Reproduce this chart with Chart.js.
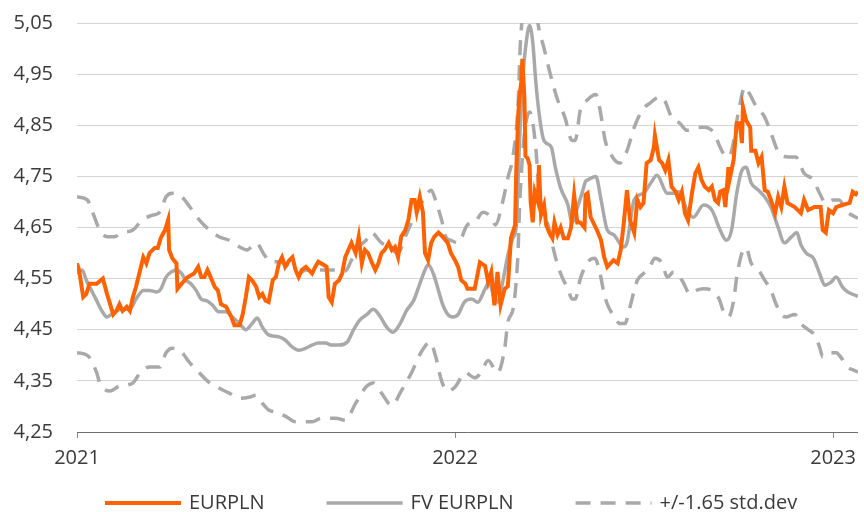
<!DOCTYPE html>
<html lang="en">
<head>
    <meta charset="UTF-8">
    <title>EURPLN vs fair value</title>
    <style>
        body { margin: 0; background: #fff; }
        canvas { display: block; }
    </style>
</head>
<body>
<canvas id="fxChart" width="864" height="512"></canvas>

<script src="https://cdn.jsdelivr.net/npm/chart.js@4.4.1/dist/chart.umd.min.js"></script>
<script>
  // x values are days since 1 Jan 2021
  const xTickDays = [0, 365, 730];
  const xTickLabels = ['2021', '2022', '2023'];
  const yTicks = [4.25, 4.35, 4.45, 4.55, 4.65, 4.75, 4.85, 4.95, 5.05];

  const eurplnDays = [0, 2, 6, 9, 12, 19, 25, 29, 32, 35, 38, 41, 44, 48, 51, 54, 57, 61, 64, 67, 70, 75, 78, 81, 85, 88, 89, 92, 96, 97,
    101, 104, 107, 113, 117, 120, 123, 126, 129, 133, 136, 139, 144, 149, 152, 157, 160, 163, 166, 169, 173, 176, 179, 182, 185, 189, 192, 195, 198,
    201, 205, 208, 211, 214, 217, 221, 227, 230, 233, 238, 241, 243, 246, 249, 253, 256, 259, 262, 265, 269, 272, 275, 278, 281, 285, 288, 291, 294, 297,
    301, 304, 307, 310, 313, 317, 320, 323, 326, 328, 331, 334, 336, 339, 342, 345, 349, 353, 358, 361, 365, 368, 371, 375, 377, 384, 389, 394, 397,
    400, 403, 406, 409, 413, 416, 419, 423, 424, 426, 427, 429, 430, 432, 433, 435, 437, 438, 440, 442, 445, 446, 448, 451, 453, 456, 459, 461, 464, 467,
    470, 474, 477, 480, 483, 486, 490, 491, 493, 496, 502, 506, 509, 512, 518, 522, 525, 528, 531, 534, 538, 541, 544, 547, 550, 554, 557, 558, 562, 565,
    568, 571, 574, 578, 581, 584, 587, 590, 594, 597, 600, 603, 606, 610, 613, 616, 619, 621, 624, 626, 629, 630, 634, 637, 640, 642, 643, 646, 650, 651,
    655, 658, 661, 664, 667, 670, 674, 677, 680, 683, 686, 693, 699, 702, 706, 712, 718, 720, 723, 726, 730, 733, 739, 746, 749, 752, 754];
  const eurplnVals = [4.58, 4.567, 4.514, 4.52, 4.54, 4.54, 4.55, 4.52, 4.50, 4.48, 4.487, 4.50, 4.487, 4.495, 4.487, 4.514, 4.534, 4.567, 4.592, 4.58, 4.60, 4.61, 4.61, 4.63, 4.645, 4.665, 4.606, 4.59, 4.58, 4.53,
    4.54, 4.547, 4.553, 4.56, 4.573, 4.553, 4.553, 4.567, 4.553, 4.534, 4.527, 4.50, 4.495, 4.475, 4.459, 4.459, 4.48, 4.514, 4.553, 4.547, 4.534, 4.514, 4.52, 4.507, 4.504, 4.547, 4.553, 4.58, 4.592,
    4.573, 4.586, 4.592, 4.567, 4.553, 4.567, 4.573, 4.56, 4.573, 4.583, 4.577, 4.573, 4.514, 4.504, 4.54, 4.547, 4.56, 4.592, 4.606, 4.62, 4.60, 4.632, 4.58, 4.606, 4.60, 4.58, 4.567, 4.58, 4.60, 4.606,
    4.62, 4.606, 4.612, 4.592, 4.632, 4.645, 4.665, 4.704, 4.704, 4.68, 4.71, 4.68, 4.60, 4.586, 4.62, 4.632, 4.64, 4.632, 4.62, 4.60, 4.586, 4.573, 4.547, 4.54, 4.53, 4.53, 4.582, 4.575, 4.543,
    4.563, 4.498, 4.563, 4.498, 4.53, 4.535, 4.629, 4.655, 4.752, 4.87, 4.903, 4.935, 4.98, 4.903, 4.79, 4.786, 4.772, 4.70, 4.66, 4.72, 4.70, 4.772, 4.674, 4.694, 4.655, 4.64, 4.629, 4.66, 4.636, 4.65,
    4.629, 4.629, 4.65, 4.714, 4.66, 4.66, 4.65, 4.714, 4.717, 4.67, 4.645, 4.625, 4.592, 4.573, 4.586, 4.58, 4.606, 4.66, 4.723, 4.664, 4.64, 4.704, 4.69, 4.698, 4.776, 4.782, 4.807, 4.83, 4.782, 4.776,
    4.762, 4.782, 4.73, 4.72, 4.704, 4.72, 4.678, 4.664, 4.72, 4.756, 4.768, 4.743, 4.73, 4.723, 4.73, 4.704, 4.698, 4.72, 4.723, 4.69, 4.768, 4.743, 4.782, 4.854, 4.854, 4.815, 4.886, 4.86, 4.846, 4.80,
    4.80, 4.776, 4.788, 4.723, 4.72, 4.704, 4.678, 4.71, 4.69, 4.73, 4.698, 4.69, 4.678, 4.704, 4.684, 4.69, 4.69, 4.645, 4.64, 4.684, 4.678, 4.69, 4.694, 4.698, 4.72, 4.715, 4.72];

  const fvDays = [0, 5, 9, 14, 19, 24, 29, 33, 38, 44, 51, 57, 64, 70, 77, 81, 86, 91, 96, 101, 105, 110, 115, 120, 125, 131, 137, 144, 150, 157,
    163, 169, 174, 179, 185, 195, 201, 208, 214, 221, 227, 233, 240, 246, 253, 261, 267, 273, 280, 286, 293, 299, 305, 312, 318, 325, 331, 336, 339, 344,
    349, 353, 358, 363, 368, 374, 381, 387, 394, 398, 403, 406, 411, 416, 421, 424, 427, 430, 433, 437, 440, 443, 446, 450, 453, 458, 462, 467, 474, 478,
    483, 488, 491, 493, 501, 506, 512, 518, 528, 531, 538, 547, 554, 560, 570, 576, 581, 589, 595, 605, 613, 621, 627, 632, 637, 642, 646, 651, 658, 664,
    670, 677, 683, 690, 695, 699, 704, 711, 717, 722, 728, 733, 739, 744, 752, 754];
  const fvVals = [4.56, 4.567, 4.547, 4.527, 4.507, 4.487, 4.475, 4.48, 4.487, 4.49, 4.49, 4.51, 4.527, 4.527, 4.524, 4.53, 4.553, 4.563, 4.567, 4.56, 4.547, 4.54, 4.527, 4.51, 4.507, 4.498, 4.485, 4.485, 4.475, 4.462,
    4.45, 4.462, 4.473, 4.455, 4.44, 4.436, 4.43, 4.416, 4.41, 4.414, 4.42, 4.424, 4.424, 4.42, 4.42, 4.426, 4.45, 4.469, 4.48, 4.49, 4.475, 4.455, 4.445, 4.462, 4.487, 4.507, 4.54, 4.567, 4.577, 4.56,
    4.527, 4.50, 4.48, 4.475, 4.48, 4.504, 4.51, 4.504, 4.53, 4.543, 4.51, 4.504, 4.543, 4.596, 4.63, 4.65, 4.805, 4.935, 5.00, 5.045, 5.013, 4.935, 4.876, 4.825, 4.815, 4.807, 4.766, 4.727, 4.694, 4.66,
    4.688, 4.72, 4.74, 4.743, 4.75, 4.704, 4.645, 4.636, 4.612, 4.62, 4.704, 4.717, 4.737, 4.752, 4.717, 4.717, 4.72, 4.684, 4.67, 4.694, 4.684, 4.645, 4.625, 4.645, 4.717, 4.762, 4.768, 4.737, 4.723, 4.71,
    4.69, 4.65, 4.62, 4.632, 4.64, 4.616, 4.60, 4.59, 4.56, 4.537, 4.543, 4.553, 4.534, 4.524, 4.517, 4.515];

  const upperDays = [0, 10, 15, 22, 29, 36, 44, 54, 63, 73, 80, 86, 92, 101, 109, 118, 128, 137, 147, 157, 164, 173, 181, 187, 195, 202, 207, 214, 221, 233,
    246, 253, 259, 265, 272, 279, 284, 294, 301, 310, 317, 323, 329, 336, 342, 347, 352, 356, 361, 368, 377, 384, 392, 400, 404, 411, 416, 421, 426, 428,
    432, 437, 442, 445, 451, 457, 464, 471, 478, 481, 486, 493, 501, 505, 510, 517, 524, 531, 538, 546, 553, 562, 567, 574, 582, 589, 598, 605, 615, 621,
    627, 632, 639, 645, 649, 656, 664, 670, 678, 687, 694, 702, 711, 717, 723, 730, 736, 742, 752, 754];
  const upperVals = [4.71, 4.704, 4.68, 4.645, 4.632, 4.632, 4.64, 4.645, 4.665, 4.674, 4.68, 4.71, 4.717, 4.71, 4.69, 4.665, 4.645, 4.632, 4.625, 4.612, 4.606, 4.62, 4.596, 4.583, 4.583, 4.577, 4.567, 4.56, 4.567, 4.567,
    4.567, 4.567, 4.565, 4.586, 4.612, 4.625, 4.64, 4.62, 4.612, 4.60, 4.632, 4.66, 4.684, 4.71, 4.723, 4.698, 4.665, 4.632, 4.625, 4.62, 4.655, 4.66, 4.68, 4.67, 4.655, 4.70, 4.747, 4.79, 4.895, 5.007,
    5.09, 5.12, 5.10, 5.05, 5.00, 4.95, 4.90, 4.866, 4.82, 4.82, 4.88, 4.90, 4.91, 4.88, 4.82, 4.788, 4.776, 4.80, 4.846, 4.88, 4.893, 4.905, 4.90, 4.866, 4.854, 4.84, 4.845, 4.846, 4.835, 4.807,
    4.788, 4.80, 4.88, 4.925, 4.913, 4.886, 4.866, 4.835, 4.795, 4.788, 4.788, 4.756, 4.743, 4.717, 4.698, 4.704, 4.704, 4.684, 4.67, 4.668];

  const lowerDays = [0, 10, 19, 22, 32, 41, 54, 61, 70, 80, 86, 92, 101, 109, 118, 128, 137, 147, 157, 166, 173, 179, 185, 192, 202, 211, 227, 236, 250, 259,
    269, 279, 286, 294, 304, 313, 323, 332, 341, 346, 352, 358, 365, 375, 384, 390, 397, 406, 413, 416, 421, 424, 426, 427, 430, 433, 437, 440, 443, 445,
    447, 450, 454, 459, 464, 469, 474, 478, 481, 486, 493, 500, 505, 509, 512, 519, 524, 529, 534, 538, 541, 547, 553, 558, 565, 570, 576, 584, 592, 598,
    605, 613, 620, 624, 629, 634, 637, 642, 646, 651, 658, 664, 670, 675, 680, 685, 693, 699, 706, 712, 717, 720, 726, 733, 738, 744, 750, 754];
  const lowerVals = [4.405, 4.40, 4.366, 4.346, 4.33, 4.34, 4.346, 4.366, 4.377, 4.377, 4.405, 4.414, 4.406, 4.385, 4.366, 4.346, 4.336, 4.326, 4.316, 4.318, 4.322, 4.306, 4.293, 4.289, 4.28, 4.27, 4.27, 4.277, 4.277, 4.273,
    4.306, 4.338, 4.346, 4.326, 4.302, 4.33, 4.366, 4.405, 4.426, 4.40, 4.35, 4.33, 4.338, 4.366, 4.356, 4.366, 4.39, 4.366, 4.414, 4.465, 4.49, 4.543, 4.61, 4.674, 4.786, 4.85, 4.876, 4.856, 4.805, 4.752,
    4.708, 4.674, 4.66, 4.616, 4.577, 4.55, 4.53, 4.51, 4.51, 4.55, 4.582, 4.59, 4.56, 4.52, 4.50, 4.475, 4.462, 4.462, 4.495, 4.527, 4.547, 4.56, 4.573, 4.59, 4.58, 4.553, 4.563, 4.547, 4.52, 4.527,
    4.53, 4.527, 4.51, 4.487, 4.475, 4.507, 4.553, 4.60, 4.61, 4.58, 4.567, 4.547, 4.527, 4.50, 4.48, 4.475, 4.48, 4.462, 4.45, 4.44, 4.416, 4.397, 4.405, 4.405, 4.395, 4.377, 4.371, 4.367];

  const toPoints = (days, vals) => days.map((d, i) => ({x: d, y: vals[i]}));

  const orange = '#FF6200';
  const grey = '#A9A9A9';
  const textColor = '#3a3a3a';
  const font = {family: "'Open Sans', sans-serif", size: 20};

  // legend drawn along the bottom, one entry per band pair
  const bottomLegend = {
    id: 'bottomLegend',
    afterDraw(chart) {
      const ctx = chart.ctx;
      const items = [0, 1, 2].map(i => chart.data.datasets[i]);
      let x = 105;
      const y = 503;
      ctx.save();
      ctx.font = font.size + 'px ' + font.family;
      ctx.textBaseline = 'middle';
      items.forEach(ds => {
        ctx.beginPath();
        ctx.strokeStyle = ds.borderColor;
        ctx.lineWidth = ds.borderWidth;
        ctx.setLineDash(ds.borderDash || []);
        ctx.moveTo(x, y);
        ctx.lineTo(x + 76, y);
        ctx.stroke();
        ctx.setLineDash([]);
        ctx.fillStyle = textColor;
        ctx.fillText(ds.label, x + 84, y);
        x += 84 + ctx.measureText(ds.label).width + 62;
      });
      ctx.restore();
    }
  };

  const ctx = document.getElementById('fxChart').getContext('2d');
  new Chart(ctx, {
    type: 'line',
    data: {
      datasets: [{
        label: 'EURPLN',
        data: toPoints(eurplnDays, eurplnVals),
        borderColor: orange,
        borderWidth: 4,
        tension: 0
      }, {
        label: 'FV EURPLN',
        data: toPoints(fvDays, fvVals),
        borderColor: grey,
        borderWidth: 3.5,
        cubicInterpolationMode: 'monotone'
      }, {
        label: '+/-1.65 std.dev',
        data: toPoints(upperDays, upperVals),
        borderColor: grey,
        borderWidth: 3.5,
        borderDash: [15, 10],
        cubicInterpolationMode: 'monotone'
      }, {
        label: 'lower band',
        data: toPoints(lowerDays, lowerVals),
        borderColor: grey,
        borderWidth: 3.5,
        borderDash: [15, 10],
        cubicInterpolationMode: 'monotone'
      }]
    },
    options: {
      responsive: false,
      animation: false,
      events: [],
      elements: { point: { radius: 0 } },
      layout: { padding: { top: 23, right: 2, bottom: 0, left: 0 } },
      plugins: {
        legend: { display: false },
        tooltip: { enabled: false }
      },
      scales: {
        x: {
          type: 'linear',
          min: 0,
          max: 754,
          afterBuildTicks: s => { s.ticks = xTickDays.map(v => ({value: v})); },
          afterFit: s => { s.height = 80; },
          ticks: {
            callback: v => xTickLabels[xTickDays.indexOf(v)],
            font: font,
            color: textColor,
            padding: 8,
            maxRotation: 0,
            autoSkip: false
          },
          grid: { drawOnChartArea: false, tickLength: 6, color: '#8c8c8c' },
          border: { color: '#6e6e6e', width: 1 }
        },
        y: {
          min: 4.25,
          max: 5.05,
          afterBuildTicks: s => { s.ticks = yTicks.map(v => ({value: v})); },
          afterFit: s => { s.width = 77; },
          ticks: {
            callback: v => v.toFixed(2).replace('.', ','),
            font: font,
            color: textColor,
            padding: 3
          },
          // invisible tick marks keep the labels clear of the plot
          grid: { color: '#d4d4d4', tickLength: 21, tickColor: 'rgba(0,0,0,0)' },
          border: { display: false }
        }
      }
    },
    plugins: [bottomLegend]
  });
</script>
</body>
</html>
